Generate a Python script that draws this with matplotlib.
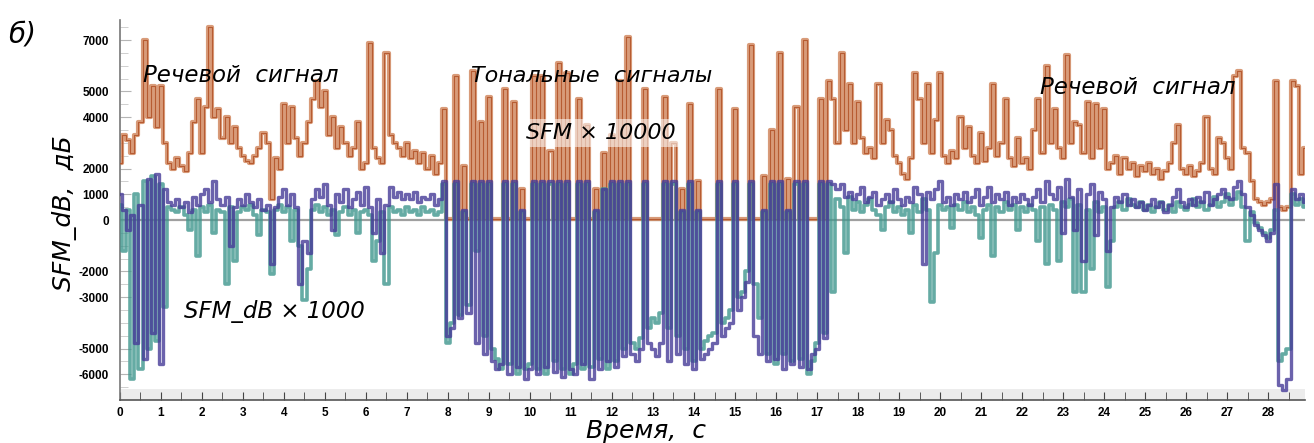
import numpy as np
import matplotlib.pyplot as plt
from matplotlib.patches import Rectangle

time_step = 0.1  # seconds per sample

# SFM x 10000, in hundreds, one row per second (0.0 .. 0.9)
sfm_rows = [
    [22, 33, 31, 26, 33, 38, 70, 40, 52, 36],
    [52, 30, 22, 20, 24, 21, 19, 26, 38, 47],
    [26, 44, 75, 40, 43, 32, 40, 30, 36, 28],
    [25, 23, 22, 25, 28, 34, 30, 8, 24, 20],
    [45, 30, 44, 32, 25, 30, 38, 47, 54, 44],
    [50, 33, 40, 28, 36, 30, 25, 28, 38, 20],
    [22, 69, 28, 24, 22, 65, 33, 30, 28, 25],
    [30, 24, 27, 22, 26, 20, 25, 18, 22, 43],
    [0.5, 0.5, 56, 0.5, 21, 0.5, 58, 0.5, 38, 0.5],
    [48, 0.5, 0.5, 0.5, 51, 0.5, 46, 0.5, 12, 0.5],
    [0.5, 56, 0.5, 56, 0.5, 27, 0.5, 61, 0.5, 57],
    [0.5, 0.5, 47, 0.5, 37, 0.5, 12, 0.5, 26, 0.5],
    [33, 0.5, 54, 0.5, 71, 0.5, 0.5, 0.5, 51, 0.5],
    [0.5, 0.5, 0.5, 48, 0.5, 30, 0.5, 12, 0.5, 45],
    [0.5, 15, 0.5, 0.5, 0.5, 0.5, 51, 0.5, 0.5, 0.5],
    [43, 0.5, 0.5, 0.5, 68, 0.5, 0.5, 17, 0.5, 35],
    [0.5, 65, 0.5, 16, 0.5, 44, 0.5, 70, 0.5, 0.5],
    [0.5, 47, 0.5, 54, 47, 30, 65, 35, 53, 30],
    [46, 32, 26, 28, 24, 53, 30, 39, 35, 25],
    [22, 18, 16, 24, 57, 47, 30, 53, 26, 39],
    [57, 25, 22, 27, 24, 40, 28, 36, 25, 22],
    [34, 23, 28, 53, 25, 30, 47, 24, 21, 32],
    [22, 24, 20, 35, 47, 26, 60, 30, 43, 28],
    [24, 64, 30, 38, 37, 26, 46, 24, 45, 28],
    [43, 20, 22, 25, 18, 24, 20, 22, 17, 21],
    [19, 22, 18, 20, 16, 19, 22, 30, 37, 20],
    [18, 21, 17, 19, 22, 40, 20, 18, 32, 30],
    [24, 20, 56, 58, 28, 26, 15, 8, 7, 6],
    [7, 8, 54, 5, 4, 5, 54, 52, 18, 28],
]

# SFM_dB x 1000, channel 1 (purple), in hundreds
sfmdb_purple_rows = [
    [10, 4, -4, 2, -48, 6, -54, 16, -44, 18],
    [-56, 12, 7, 6, 8, 5, 7, 3, 9, 6],
    [10, 12, 7, 15, 8, 6, 9, -10, 5, 8],
    [6, 10, 7, 5, 8, 4, 6, -17, 5, 9],
    [12, 6, 10, 5, -25, -8, -13, 8, 12, 9],
    [14, 6, -4, 10, 7, 12, 5, 8, 11, 6],
    [13, 5, -5, 8, -13, 6, 13, 9, 11, 8],
    [10, 8, 11, 7, 9, 8, 10, 6, 8, 15],
    [-45, -42, 15, -38, 4, -36, 15, -48, 15, -52],
    [15, -55, -58, -56, 15, -60, 15, -57, 4, -62],
    [-58, 15, -60, 15, -57, 15, -59, 15, -61, 15],
    [-58, -60, 15, -56, 15, -62, 4, -58, 12, -55],
    [15, -57, 15, -53, 15, -52, -55, -50, 15, -48],
    [-50, -53, -48, 15, -55, 15, -52, 4, -56, 15],
    [-58, 4, -54, -52, -50, -48, 15, -45, -42, -40],
    [15, -35, -30, -24, 15, -45, -52, 4, -55, 15],
    [-54, 15, -58, 4, -56, 15, -57, 15, -58, -52],
    [-50, 15, -46, 15, 14, 12, 14, 9, 11, 8],
    [10, 13, 7, 9, 11, 6, 8, 10, 7, 12],
    [8, 6, 9, 7, 13, 10, -17, 11, 8, 12],
    [15, 7, 9, 6, 10, 8, 11, 7, 9, 12],
    [6, 9, 13, 7, 10, 8, 11, 6, 9, 7],
    [10, 8, 6, 9, 12, 7, 15, 10, 8, 13],
    [-5, 16, 9, -4, 12, -16, 10, 14, -6, 11],
    [8, -12, 5, 9, 7, 10, 6, 8, 5, 7],
    [4, 6, 8, 5, 7, 3, 6, 9, 12, 7],
    [5, 8, 6, 9, 7, 11, 6, 8, 10, 12],
    [9, 8, 13, 15, 10, 5, 2, -2, -4, -6],
    [-8, -5, 14, -64, -66, -62, 12, 8, 10, 7],
]

# SFM_dB x 1000, channel 2 (teal), in hundreds
sfmdb_teal_rows = [
    [6, -12, 4, -62, 10, -58, 15, -50, 17, -47],
    [14, -34, 5, 4, 3, 5, 2, -4, 4, -14],
    [5, 3, 6, -5, 4, 3, -25, 5, -16, 3],
    [5, 4, 6, 2, -6, 4, 3, -21, 4, 6],
    [3, 5, -8, 4, -10, -31, -19, 4, 6, 3],
    [5, 2, 4, -6, 3, 5, 2, 4, -5, 3],
    [4, 2, -16, -8, 3, -25, 5, 3, 4, 2],
    [5, 3, 4, 2, 5, 3, 4, 2, 3, 14],
    [-48, -40, 14, -37, 3, -33, 14, -12, 14, -45],
    [14, -50, -54, -58, 14, -56, 14, -60, 3, -58],
    [-56, 14, -58, 14, -60, 14, -55, 14, -58, 14],
    [-60, -56, 14, -58, 14, -57, 3, -54, 12, -58],
    [14, -55, 14, -50, 14, -48, -50, -46, 14, -42],
    [-38, -40, -36, 14, -42, 14, -45, 3, -50, 14],
    [-55, 3, -50, -47, -45, -44, 14, -40, -38, -35],
    [14, -30, -28, -20, 14, -25, -38, 3, -52, 14],
    [-56, 14, -52, 3, -55, 14, -54, 14, -60, -55],
    [-48, 14, -44, 14, -28, 8, 5, -13, 9, 4],
    [7, 3, 6, 8, 4, 2, -4, 5, 7, 3],
    [5, 2, 4, -5, 6, 3, 8, 4, -32, -13],
    [6, 4, 5, -3, 6, 4, 7, 3, 5, 2],
    [-7, 4, 6, -14, 5, 3, 7, 4, 6, -4],
    [5, 3, 6, 4, -8, 5, -17, 6, 4, -16],
    [7, 5, 8, -28, 6, -28, 4, -19, 7, 3],
    [5, -26, -8, 5, 7, 4, 8, 6, 5, 7],
    [4, 6, 3, 5, 7, 4, 6, 3, 7, 5],
    [4, 6, 8, 5, 7, 4, 6, 9, 5, 7],
    [10, 6, 8, 11, 5, -8, 3, -1, -3, -5],
    [-7, -4, 4, -55, -52, -50, 10, 6, 8, 5],
]

y_ticks = [7000, 5000, 4000, 2000, 1000, 0, -2000, -3000, -5000, -6000]
x_ticks = list(range(0, 29))

sfm = np.array(sfm_rows, dtype=float).ravel() * 100
purple = np.array(sfmdb_purple_rows, dtype=float).ravel() * 100
teal = np.array(sfmdb_teal_rows, dtype=float).ravel() * 100
t = np.arange(len(sfm)) * time_step

fig = plt.figure(figsize=(13.14, 4.43), dpi=100)
ax = fig.add_axes([0.0913, 0.0971, 0.9018, 0.8578])

ax.axhline(0, color='#a0a0a0', lw=1.6, zorder=1)

ax.plot(t, sfm, drawstyle='steps-mid', color='#d28a62', lw=3.0, alpha=0.85, zorder=2)
ax.plot(t, sfm, drawstyle='steps-mid', color='#b4552b', lw=0.8, alpha=0.9, zorder=3)
ax.plot(t, teal, drawstyle='steps-mid', color='#3f968d', lw=2.6, alpha=0.8, zorder=4)
ax.plot(t, purple, drawstyle='steps-mid', color='#463b98', lw=2.4, alpha=0.8, zorder=6)

ax.set_xlim(0, 28.9)
ax.set_ylim(-7000, 7780)

ax.set_yticks(y_ticks)
ax.set_yticks(np.arange(-6500, 7600, 500), minor=True)
ax.set_xticks(x_ticks)
ax.set_xticks(np.arange(0.5, 28.9, 1.0), minor=True)

tick_font = dict(family='Liberation Sans', weight='bold', size=8.5)
ax.set_yticklabels([str(v) for v in y_ticks], fontdict=tick_font)
ax.set_xticklabels([str(v) for v in x_ticks], fontdict=tick_font)
ax.tick_params(axis='y', which='major', direction='in', length=8, color='#b5b5b5', pad=8)
ax.tick_params(axis='y', which='minor', direction='in', length=6, color='#c8c8c8')
ax.tick_params(axis='x', which='both', direction='in', length=6, color='#444444', pad=5)

for side in ['top', 'right']:
    ax.spines[side].set_visible(False)
ax.spines['left'].set_color('#777777')
ax.spines['bottom'].set_color('#555555')
ax.spines['left'].set_linewidth(1.2)
ax.spines['bottom'].set_linewidth(1.2)

# light ruler strip along the time axis
ax.add_patch(Rectangle((0, 0), 1, 0.028, transform=ax.transAxes,
                       facecolor='#ececec', edgecolor='none', zorder=0))

label_font = dict(family='DejaVu Sans', style='italic')

ax.text(0.55, 5350, 'Речевой  сигнал', fontsize=16.5, **label_font, zorder=10)
ax.text(8.55, 5350, 'Тональные  сигналы', fontsize=16, **label_font, zorder=10)
ax.text(9.9, 3150, 'SFM × 10000', fontsize=16, **label_font, zorder=10,
        bbox=dict(facecolor='white', alpha=0.55, edgecolor='none', pad=3))
ax.text(22.45, 4900, 'Речевой  сигнал', fontsize=16.5, **label_font, zorder=10)
ax.text(1.55, -3800, 'SFM_dB × 1000', fontsize=16.5, **label_font, zorder=10)

fig.text(0.006, 0.905, 'б)', fontsize=20, **label_font)
fig.text(0.049, 0.52, 'SFM_dB,  дБ', fontsize=18, rotation=90, va='center', ha='center', **label_font)
fig.text(0.492, 0.028, 'Время,  с', fontsize=18, va='center', ha='center', **label_font)

fig.savefig('out.png', dpi=100)
